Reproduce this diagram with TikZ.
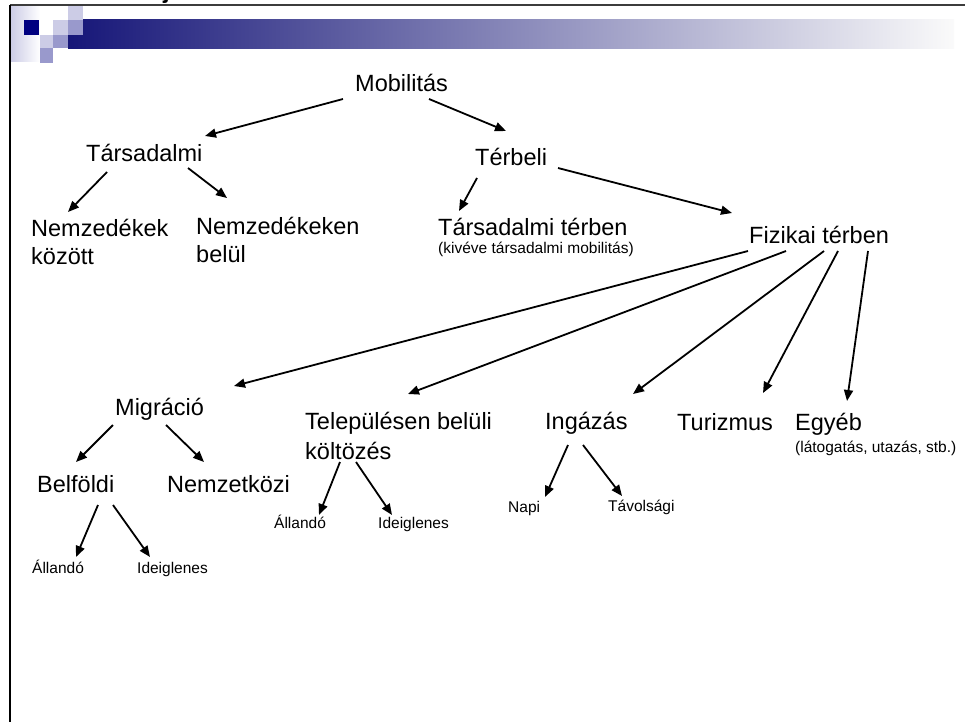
\documentclass[tikz,border=0pt]{standalone}
\usepackage{fontspec}
\setmainfont{Liberation Sans}
\usetikzlibrary{arrows.meta,calc}
\definecolor{navy}{RGB}{0,0,128}
\definecolor{barnavy}{RGB}{22,22,120}
\definecolor{barmid}{RGB}{165,165,192}
\definecolor{barend}{RGB}{250,250,250}
\definecolor{sqlight}{RGB}{204,204,230}
\definecolor{sqmed}{RGB}{153,153,204}
\definecolor{framegray}{RGB}{60,60,60}
\tikzset{
  big/.style={font=\fontsize{23.5}{28}\selectfont, inner sep=0pt, anchor=base west},
  small/.style={font=\fontsize{15.5}{18}\selectfont, inner sep=0pt, anchor=base west},
  arr/.style={draw=black, line width=1.8pt, -{Triangle[length=11pt,width=9pt]}},
}
\begin{document}
\begin{tikzpicture}[x=1pt,y=-1pt]
\useasboundingbox (0,0) rectangle (965,722);
\fill[white] (0,0) rectangle (965,722);
% header
\shade[left color=sqlight, right color=white] (11,7) rectangle (40,62);
\shade[left color=barnavy, middle color=barmid, right color=barend] (68,20) rectangle (954,49);
\fill[navy] (24,20) rectangle (39,35);
\fill[sqlight] (68,5) rectangle (83,20);
\fill[sqlight] (53,20) rectangle (68,35);
\fill[sqmed] (68,20) rectangle (83,35);
\fill[sqlight] (40,35) rectangle (53,48);
\fill[sqmed] (53,35) rectangle (68,48);
\fill[sqmed] (40,48) rectangle (53,63);
\begin{scope}
\clip (0,0) rectangle (965,4);
\node[font=\bfseries\fontsize{24}{28}\selectfont, inner sep=0pt, anchor=base west] (titlej) at (163,-1) {j};
\end{scope}
\draw[framegray, line width=1.6pt] (10,5) -- (965,5);
\draw[black, line width=1.6pt] (10,5) -- (10,722);
% nodes
\node[big] (mob) at (355,92) {Mobilitás};
\node[big] (soc) at (86,161) {Társadalmi};
\node[big] (spa) at (475,166) {Térbeli};
\node[big] (nemk) at (31,236) {\begin{tabular}[t]{@{}l@{}}Nemzedékek\\között\end{tabular}};
\node[big] (nemb) at (196,234) {\begin{tabular}[t]{@{}l@{}}Nemzedékeken\\belül\end{tabular}};
\node[big] (tt) at (438,235) {Társadalmi térben};
\node[small] (ttsub) at (438,253) {(kivéve társadalmi mobilitás)};
\node[big] (fiz) at (749,243) {Fizikai térben};
\node[big] (mig) at (115,415) {Migráció};
\node[big] (tel) at (305,429) {\begin{tabular}[t]{@{}l@{}}Településen belüli\\[2pt]költözés\end{tabular}};
\node[big] (ing) at (545,429) {Ingázás};
\node[big] (tur) at (677,430) {Turizmus};
\node[big] (egy) at (795,430) {Egyéb};
\node[small] (egysub) at (795,452) {(látogatás, utazás, stb.)};
\node[big] (bel) at (37,492) {Belföldi};
\node[big] (nem) at (167,492) {Nemzetközi};
\node[small] (allA) at (32,573) {Állandó};
\node[small] (ideA) at (137,573) {Ideiglenes};
\node[small] (allB) at (274,528) {Állandó};
\node[small] (ideB) at (378,528) {Ideiglenes};
\node[small] (napi) at (508,512) {Napi};
\node[small] (tav) at (608,511) {Távolsági};
% connectors
\draw[arr] ($(mob.base west)+(-12,7)$) -- ($(soc.base west)+(119,-25)$);
\draw[arr] ($(mob.base west)+(74,7)$) -- ($(spa.base west)+(31,-35)$);
\draw[arr] ($(soc.base west)+(21,11)$) -- ($(nemk.base west)+(37,-24)$);
\draw[arr] ($(soc.base west)+(102,7)$) -- ($(nemb.base west)+(31,-36)$);
\draw[arr] ($(spa.base west)+(2,12)$) -- ($(tt.base west)+(21,-24)$);
\draw[arr] ($(spa.base west)+(83,2)$) -- ($(fiz.base west)+(-17,-30)$);
\draw[arr] ($(fiz.base west)+(-1,8)$) -- ($(mig.base west)+(119,-29)$);
\draw[arr] ($(fiz.base west)+(37,8)$) -- ($(tel.base west)+(103,-35)$);
\draw[arr] ($(fiz.base west)+(75,8)$) -- ($(ing.base west)+(88,-35)$);
\draw[arr] ($(fiz.base west)+(89,8)$) -- ($(tur.base west)+(86,-37)$);
\draw[arr] ($(fiz.base west)+(119,8)$) -- ($(egy.base west)+(52,-29)$);
\draw[arr] ($(mig.base west)+(-2,10)$) -- ($(bel.base west)+(39,-30)$);
\draw[arr] ($(mig.base west)+(51,10)$) -- ($(nem.base west)+(37,-30)$);
\draw[arr] ($(bel.base west)+(61,13)$) -- ($(allA.base west)+(44,-16)$);
\draw[arr] ($(bel.base west)+(76,13)$) -- ($(ideA.base west)+(13,-16)$);
\draw[arr] ($(tel.base west)+(35,33)$) -- ($(allB.base west)+(45,-13)$);
\draw[arr] ($(tel.base west)+(51,33)$) -- ($(ideB.base west)+(14,-13)$);
\draw[arr] ($(ing.base west)+(23,16)$) -- ($(napi.base west)+(37,-15)$);
\draw[arr] ($(ing.base west)+(38,16)$) -- ($(tav.base west)+(14,-15)$);
\end{tikzpicture}
\end{document}
